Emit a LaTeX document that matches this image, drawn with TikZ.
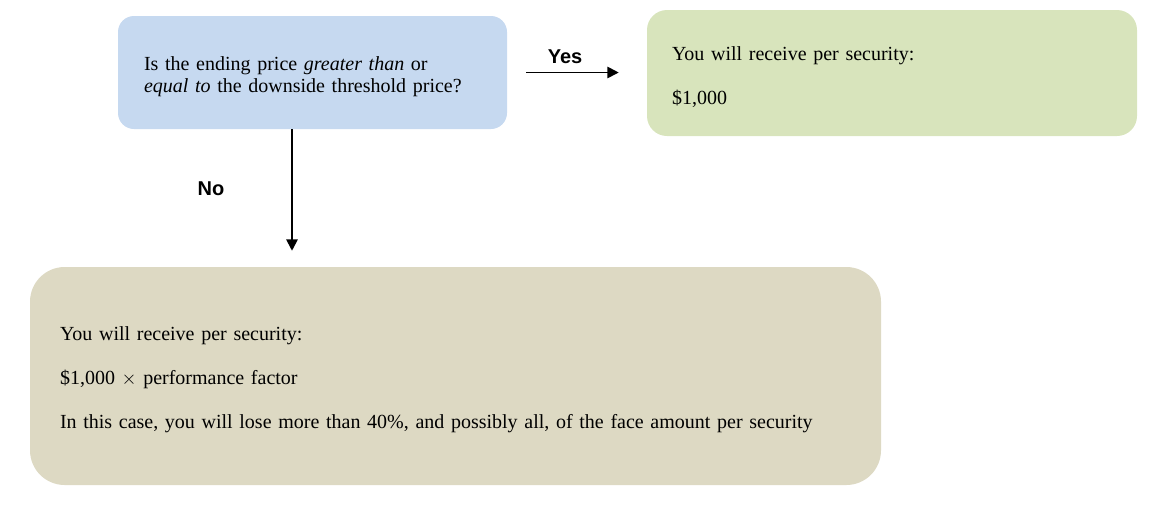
\documentclass[tikz,border=0pt]{standalone}
\usepackage{fontspec}
\setmainfont{Liberation Serif}
\newfontfamily\labelfont{Liberation Sans}
\usetikzlibrary{arrows.meta}

\definecolor{askblue}{HTML}{C6D9F0}
\definecolor{paygreen}{HTML}{D8E4BC}
\definecolor{losstan}{HTML}{DDD9C3}

\begin{document}
\begin{tikzpicture}[x=0.75pt,y=-0.75pt,
    box/.style={inner sep=0pt, align=left, font=\fontsize{15}{16.5}\selectfont,
                execute at begin node=\rule{0pt}{16.5pt}},
    flow/.style={line width=1.3pt, -{Triangle[length=8.5pt,width=8.5pt]}},
    lbl/.style={font=\labelfont\bfseries\fontsize{15}{18}\selectfont}]
  \useasboundingbox (0,0) rectangle (1174,512);

  % question
  \node[box, fill=askblue, rounded corners=12pt, minimum width=291.75pt, minimum height=84.75pt,
        text width=252.75pt] (ask) at (312.5,72.5)
    {Is the ending price \textit{greater than} or\\
     \textit{equal to} the downside threshold price?};

  % yes branch
  \node[box, fill=paygreen, rounded corners=15pt, minimum width=367.5pt, minimum height=94.5pt,
        text width=330pt] (pay) at (892,73)
    {You will receive per security:\\[16.5pt]
     \$1,000};

  % no branch
  \node[box, fill=losstan, rounded corners=26pt, minimum width=638.25pt, minimum height=163.5pt,
        text width=593.25pt] (loss) at (455.5,376)
    {You will receive per security:\\[16.5pt]
     \$1,000 $\times$ performance factor\\[16.5pt]
     In this case, you will lose more than 40\%, and possibly all, of the face amount per security};

  \coordinate (nostart) at (292,129);
  \draw[flow, shorten <=14.25pt, shorten >=21pt] (ask.east) -- (ask.east -| pay.west);
  \draw[flow, shorten >=12pt] (nostart) -- (nostart |- loss.north);

  \node[lbl] (yes) at (565,57) {Yes};
  \node[lbl] (no) at (211,189) {No};
\end{tikzpicture}
\end{document}
